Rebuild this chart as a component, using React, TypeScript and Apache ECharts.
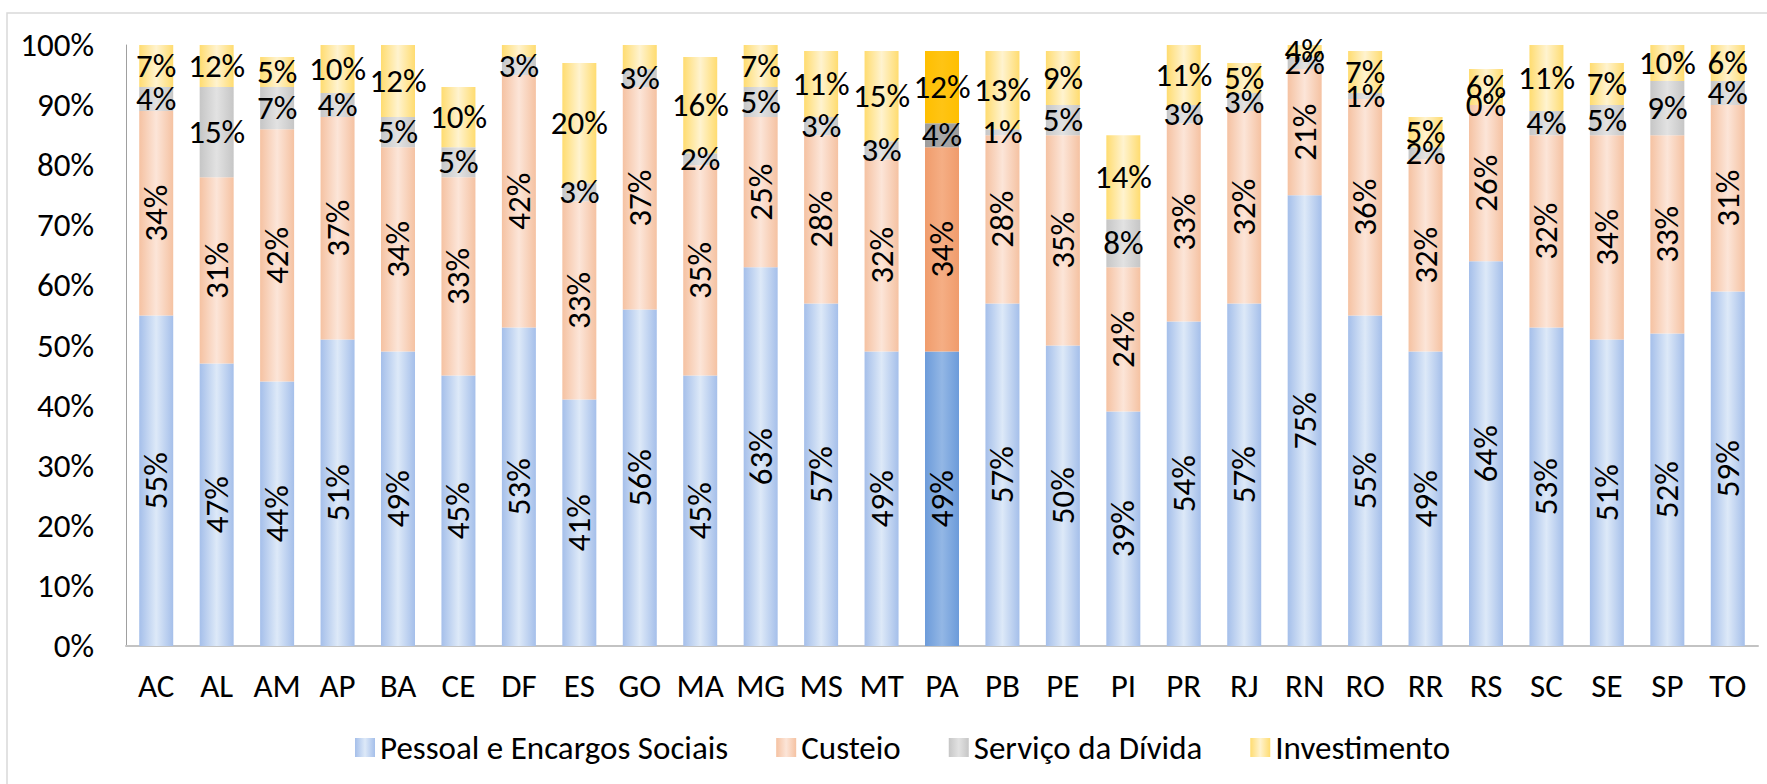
import React, { useEffect, useRef } from "react";
import * as echarts from "echarts";

const categories = ["AC","AL","AM","AP","BA","CE","DF","ES","GO","MA","MG","MS","MT","PA","PB","PE","PI","PR","RJ","RN","RO","RR","RS","SC","SE","SP","TO"];
const seriesNames = ["Pessoal e Encargos Sociais", "Custeio", "Serviço da Dívida", "Investimento"];
const pessoal = [55,47,44,51,49,45,53,41,56,45,63,57,49,49,57,50,39,54,57,75,55,49,64,53,51,52,59];
const custeio = [34,31,42,37,34,33,42,33,37,35,25,28,32,34,28,35,24,33,32,21,36,32,26,32,34,33,31];
const divida = [4,15,7,4,5,5,3,3,3,2,5,3,3,4,1,5,8,3,3,2,1,2,0,4,5,9,4];
const investimento = [7,12,5,10,12,10,6,20,10,16,7,11,15,12,13,9,14,11,5,4,7,5,6,11,7,10,6];
const yTicks = [0,10,20,30,40,50,60,70,80,90,100];
const highlight = "PA";

const FONT = "Carlito, Lato, 'Open Sans', sans-serif";
const FS = 33;

const normalColors = [
  { edge: "#A5BFEA", mid: "#DDE9F8" },
  { edge: "#F5C2A2", mid: "#FCE5D8" },
  { edge: "#C6C6C6", mid: "#E2E2E2" },
  { edge: "#FFDC70", mid: "#FFF3CF" },
];
const highColors = [
  { edge: "#6C9BDA", mid: "#93B7E5" },
  { edge: "#F09C6C", mid: "#F5AE84" },
  { edge: "#9C9C9C", mid: "#A8A8A8" },
  { edge: "#FFBF00", mid: "#FFC414" },
];

function grad(c: { edge: string; mid: string }) {
  return new echarts.graphic.LinearGradient(0, 0, 1, 0, [
    { offset: 0, color: c.edge },
    { offset: 0.5, color: c.mid },
    { offset: 1, color: c.edge },
  ]);
}

export default function App() {
  const ref = useRef<HTMLDivElement>(null);
  useEffect(() => {
    if (!ref.current) return;
    const chart = echarts.init(ref.current, undefined, { renderer: "svg" });
    const all = [pessoal, custeio, divida, investimento];
    const series = all.map((arr, si) => ({
      name: seriesNames[si],
      type: "bar",
      stack: "total",
      barWidth: 34,
      clip: true,
      itemStyle: { color: grad(normalColors[si]) },
      label: {
        show: true,
        position: "inside",
        rotate: si < 2 ? 90 : 0,
        formatter: "{c}%",
        color: "#000",
        fontSize: FS,
        fontFamily: FONT,
      },
      emphasis: { disabled: true },
      data: arr.map((v, ci) => {
        let base = 0;
        for (let k = 0; k < si; k++) base += all[k][ci];
        const item: any = { value: v };
        if (base + v / 2 > 100) item.label = { show: false };
        if (categories[ci] === highlight) item.itemStyle = { color: grad(highColors[si]) };
        return item;
      }),
    }));
    chart.setOption({
      animation: false,
      backgroundColor: "#fff",
      textStyle: { fontFamily: FONT },
      graphic: [
        {
          type: "rect",
          shape: { x: 7, y: 13, width: 1800, height: 800 },
          style: { fill: "none", stroke: "#D9D9D9", lineWidth: 1.5 },
          silent: true,
          z: -10,
        },
      ],
      grid: { left: 126, right: 9, top: 45, bottom: 138, containLabel: false },
      legend: {
        bottom: 15,
        left: 350,
        itemWidth: 20,
        itemHeight: 19,
        itemGap: 48,
        icon: "rect",
        textStyle: { fontSize: FS, color: "#000", fontFamily: FONT },
        data: seriesNames,
      },
      xAxis: {
        type: "category",
        data: categories,
        axisLine: { show: true, lineStyle: { color: "#C3C3C3", width: 2 } },
        axisTick: { show: false },
        axisLabel: { color: "#000", fontSize: FS, fontFamily: FONT, margin: 23, interval: 0 },
      },
      yAxis: {
        type: "value",
        min: yTicks[0],
        max: yTicks[yTicks.length - 1],
        interval: 10,
        axisLine: { show: true, lineStyle: { color: "#A0A0A0", width: 1 } },
        axisTick: { show: false },
        splitLine: { show: false },
        axisLabel: { color: "#000", fontSize: FS, fontFamily: FONT, formatter: "{value}%", margin: 32 },
      },
      series,
    });
    return () => chart.dispose();
  }, []);
  return (
    <div
      ref={ref}
      style={{ position: "fixed", left: 0, top: 0, width: 1767, height: 784, background: "#fff" }}
    />
  );
}
